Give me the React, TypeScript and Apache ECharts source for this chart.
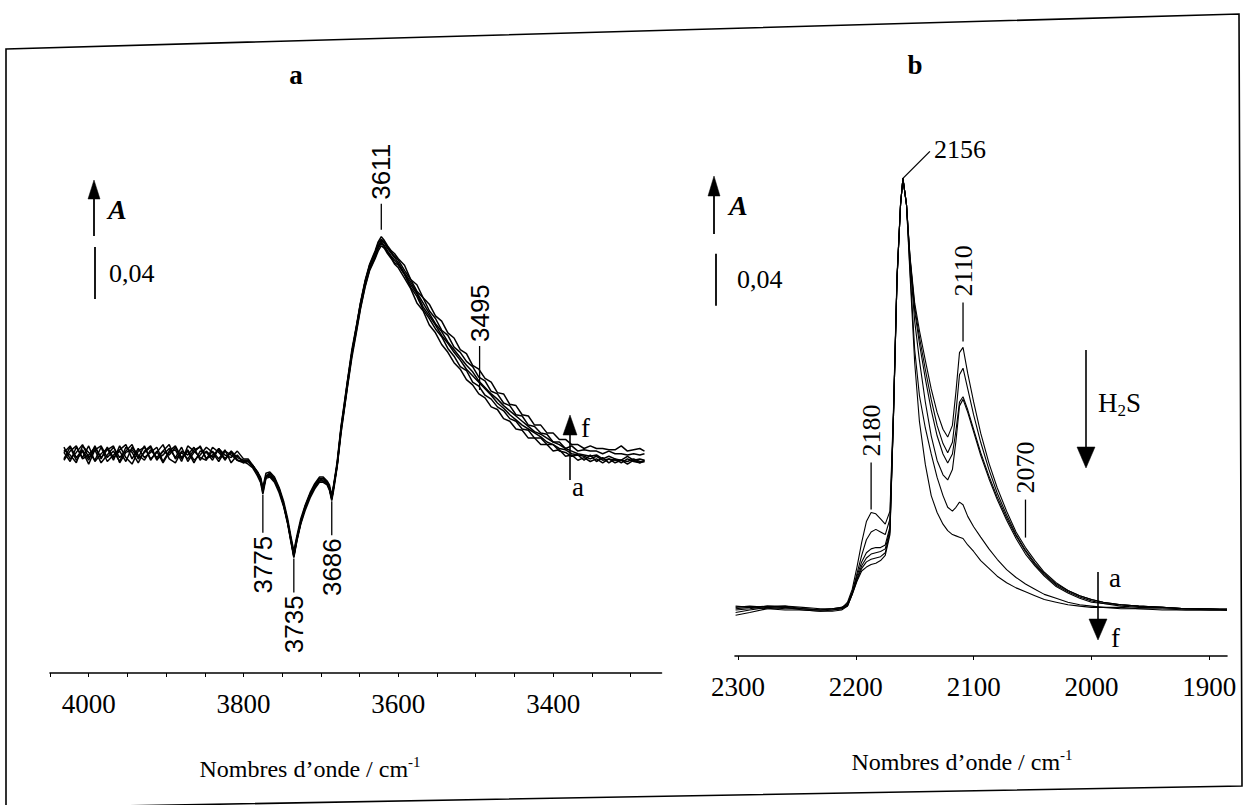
import React, { useEffect, useRef } from "react";
import * as echarts from "echarts";

// ---------------- Panel a : OH stretching region (absorbance in 10^-3 units) ----------------
const WN_A = [
  4032, 4024, 4016, 4008, 4000, 3992, 3984, 3976, 3968, 3960, 3952, 3944, 3936, 3928, 3920,
  3912, 3904, 3896, 3888, 3880, 3872, 3864, 3856, 3848, 3840, 3832, 3824, 3816, 3808, 3800,
  3794, 3788, 3782, 3778, 3775, 3771, 3766, 3760, 3754, 3748, 3743, 3739, 3735, 3731, 3726,
  3720, 3714, 3708, 3702, 3697, 3692, 3689, 3686, 3683, 3679, 3674, 3670, 3666, 3660, 3654,
  3649, 3643, 3637, 3630, 3626, 3622, 3618, 3614, 3609, 3605,
  3600, 3592, 3584, 3576, 3568, 3560, 3552, 3544, 3536, 3528, 3520, 3512, 3504, 3496, 3488,
  3480, 3472, 3464, 3456, 3448, 3440, 3432, 3424, 3416, 3408, 3400, 3392, 3384, 3376, 3368,
  3360, 3352, 3344, 3336, 3328, 3320, 3312, 3304, 3296, 3288, 3282,
];

const OH_a = [
  2, -5, 6, -2, 7, -5, 1, 5, -4, 7, -2, -7, 3, 6, -3, 2, 8, -3, -6, 3, 0, 6, -4, 3, -2, 5, -3, 2, -4, -5,
  -7, -10, -16, -21, -30, -18, -17, -21, -29, -40, -53, -66, -79, -66, -53, -42, -33, -26, -21, -21,
  -23, -27, -35, -25, -9, 17, 34, 51, 75, 95, 112, 129, 142, 151, 157, 161, 159, 155, 151, 147,
  144, 136, 128, 117, 111, 100, 94, 85, 79, 71, 66, 58, 54, 47, 44, 37, 35, 28, 26, 20,
  19, 13, 13, 8, 8, 3, 4, -1, 0, -4, -2, -5, -3, -6, -3, -6, -4, -7, -4, -6, -5,
];
const OH_b = [
  -3, 6, -4, 3, -7, 4, 7, -2, 3, -5, 6, 2, -6, 3, 7, -3, 0, 5, -2, 6, -5, 2, 7, -3, 3, -3, 4, -6, 0, -6,
  -4, -9, -13, -20, -27, -17, -14, -20, -26, -39, -52, -64, -78, -64, -51, -39, -31, -23, -20, -18,
  -22, -26, -33, -23, -8, 18, 35, 52, 77, 96, 113, 130, 143, 152, 159, 163, 160, 156, 152, 148,
  146, 139, 129, 122, 112, 105, 97, 91, 82, 76, 68, 65, 56, 53, 46, 43, 37, 34, 28, 26,
  20, 19, 13, 13, 8, 8, 3, 2, -1, 0, -4, 0, -5, -2, -6, -3, -6, -3, -5, -6, -4,
];
const OH_c = [
  4, 0, -6, 7, 2, -4, 6, -5, 0, 4, 8, -3, 5, -2, 2, 6, -5, 3, 7, -2, 4, -4, 0, 6, 2, -5, 3, 0, -4, -5,
  -5, -8, -14, -18, -29, -16, -16, -18, -27, -38, -51, -65, -77, -65, -52, -40, -30, -25, -18, -20,
  -21, -25, -34, -22, -7, 20, 36, 53, 78, 98, 114, 131, 144, 153, 160, 164, 161, 157, 153, 150,
  147, 139, 131, 124, 114, 107, 100, 92, 86, 79, 73, 66, 61, 56, 51, 46, 40, 36, 31, 27,
  23, 20, 17, 14, 10, 8, 5, 4, 1, 0, -1, -3, -1, -4, -3, -4, -4, -5, -3, -5, -5,
];
const OH_d = [
  -4, 3, 7, -3, 0, 6, -2, 4, 7, -6, 2, 4, -2, 7, -4, 3, -6, 2, 4, -5, 7, 3, -2, -4, 6, 2, -3, 3, -4, -6,
  -5, -9, -14, -20, -27, -17, -16, -20, -27, -39, -52, -65, -78, -65, -52, -40, -31, -25, -20, -20,
  -22, -26, -34, -23, -8, 20, 36, 55, 79, 99, 116, 133, 146, 155, 161, 165, 163, 159, 155, 152,
  148, 140, 133, 125, 117, 109, 101, 95, 87, 81, 75, 69, 64, 57, 52, 47, 43, 38, 34, 30,
  26, 22, 18, 16, 13, 10, 8, 5, 3, 1, 0, -1, 0, -3, -1, -3, -4, -1, -4, -3, -4,
];
const OH_e = [
  2, 7, -2, 4, -4, 7, -3, 6, -2, 3, -5, 6, 0, -4, 4, -2, 3, 8, -3, 2, -3, 4, 6, -3, 0, 4, -4, 3, -2, -4,
  -4, -8, -13, -18, -26, -16, -14, -18, -26, -38, -51, -64, -75, -64, -51, -39, -30, -23, -18, -18,
  -21, -25, -33, -22, -7, 21, 38, 55, 79, 99, 116, 133, 146, 156, 163, 166, 164, 160, 156, 153,
  150, 142, 135, 126, 121, 111, 105, 96, 92, 83, 79, 72, 68, 60, 57, 49, 47, 40, 38, 31,
  30, 23, 22, 17, 16, 10, 10, 5, 7, 3, 4, 3, 3, 1, 3, 1, 1, 0, 1, 0, 1,
];
const OH_f = [
  6, -3, 2, 8, -2, 4, -6, 0, 6, -2, 3, 8, -3, 2, 6, -4, 3, 0, 6, -3, 3, -6, 3, 2, -4, 5, 0, -2, 3, -3,
  -3, -8, -13, -17, -25, -14, -13, -17, -25, -36, -49, -62, -74, -62, -49, -38, -29, -22, -17, -17,
  -20, -23, -31, -21, -5, 22, 39, 56, 81, 100, 117, 134, 147, 157, 164, 168, 165, 161, 157, 155,
  151, 146, 135, 131, 121, 116, 107, 103, 94, 90, 81, 78, 69, 66, 59, 56, 48, 47, 39, 38,
  31, 30, 23, 23, 17, 17, 12, 12, 8, 8, 5, 7, 5, 5, 4, 4, 7, 3, 4, 5, 3,
];

// ---------------- Panel b : CO stretching region (absorbance in 10^-3 units) ----------------
const WN_B = [
  2302, 2290, 2275, 2260, 2245, 2230, 2220, 2212, 2207, 2203, 2199, 2195, 2191, 2187, 2183,
  2179, 2175, 2171, 2168, 2165, 2162, 2160, 2157, 2154, 2150, 2146, 2141, 2136, 2131, 2126,
  2122, 2118, 2115, 2112, 2109, 2105, 2100, 2094, 2087, 2080, 2072, 2064, 2056, 2048, 2040,
  2030, 2020, 2010, 2000, 1990, 1975, 1960, 1940, 1920, 1900, 1885,
];
const CO_a = [
  -4, -2, 1, 2, 0, -1, -1, 0, 3, 12, 22, 30, 33, 35, 36, 38, 42, 58, 150, 255,
  312, 332, 312, 272, 236, 215, 192, 170, 152, 139, 133, 142, 168, 198, 202, 182, 160, 136, 113, 94,
  76, 60, 48, 38, 29, 21, 15, 11, 8, 6, 4, 3, 2, 1, 1, 1,
];
const CO_b = [
  -2, 0, 2, 3, 1, 0, 0, 1, 3, 12, 23, 32, 37, 39, 40, 41, 44, 60, 150, 255,
  312, 332, 312, 271, 233, 210, 185, 162, 142, 128, 121, 129, 152, 181, 186, 170, 150, 129, 108, 90,
  73, 58, 46, 36, 28, 20, 15, 11, 8, 6, 4, 3, 2, 1, 1, 0,
];
const CO_c = [
  0, 1, 3, 3, 2, 1, 1, 1, 4, 13, 24, 34, 40, 43, 44, 45, 47, 62, 150, 255,
  312, 332, 312, 270, 230, 205, 178, 154, 134, 120, 113, 120, 138, 160, 164, 154, 139, 121, 103, 87,
  71, 57, 45, 35, 27, 19, 14, 10, 7, 5, 4, 3, 2, 1, 1, 0,
];
const CO_d = [
  1, 2, 3, 2, 1, 0, 1, 2, 4, 13, 26, 37, 44, 47, 48, 48, 50, 64, 150, 255,
  312, 332, 312, 268, 222, 192, 160, 134, 115, 104, 100, 108, 130, 157, 162, 152, 137, 119, 101, 85,
  69, 55, 43, 34, 26, 18, 13, 9, 6, 5, 3, 2, 2, 1, 0, 0,
];
const CO_e = [
  2, 3, 2, 1, 1, 0, 1, 2, 5, 14, 28, 42, 54, 60, 62, 60, 58, 70, 152, 256,
  312, 332, 312, 262, 200, 165, 140, 120, 102, 88, 79, 76, 79, 83, 81, 72, 64, 56, 47, 39,
  31, 25, 20, 16, 12, 9, 6, 4, 3, 2, 2, 1, 1, 0, 0, 0,
];
const CO_f = [
  3, 2, 1, 0, 0, -1, 0, 1, 6, 16, 33, 52, 68, 75, 74, 70, 66, 76, 155, 258,
  313, 332, 312, 258, 190, 145, 112, 88, 75, 66, 61, 58, 57, 56, 55, 50, 45, 38, 32, 26,
  21, 17, 14, 11, 8, 6, 4, 3, 2, 2, 1, 1, 0, 0, 0, 0,
];

// ---------------- Axis ticks / labels ----------------
const LABELS_A = [4000, 3800, 3600, 3400];
const TICKS_A = [4050, 4000, 3950, 3900, 3850, 3800, 3750, 3700, 3650, 3600, 3550, 3500, 3450, 3400, 3350, 3300];
const LABELS_B = [2300, 2200, 2100, 2000, 1900];

// ---------------- Band annotations ----------------
const BAND_TEXT_A = ["3775", "3735", "3686", "3611", "3495"];
const BAND_WN_A = [3775, 3735, 3686, 3622, 3495];
const BAND_ABS_A = [-29, -78, -34, 164, 50];
const BAND_TEXT_B = ["2156", "2110", "2180", "2070"];
const BAND_WN_B = [2160, 2109, 2187, 2056];
const BAND_ABS_B = [332, 202, 75, 48];
const SCALE_BAR = 40; // 0,04 absorbance

const SERIF = "Liberation Serif";
const SANS = "Liberation Sans";

const zip = (xs: number[], ys: number[]) => xs.map((x, i) => [x, ys[i]]);

function axisX(grid: number, min: number, max: number, labels: number[], ticks: number[]) {
  return {
    type: "value",
    gridIndex: grid,
    min,
    max,
    inverse: true,
    axisLine: { show: true, onZero: false, lineStyle: { color: "#000", width: 1.6 } },
    axisTick: { show: true, customValues: ticks, length: 4, lineStyle: { color: "#000", width: 1 } },
    axisLabel: {
      show: true,
      customValues: labels,
      formatter: (v: number) => String(v),
      margin: 17,
      color: "#000",
      fontFamily: SERIF,
      fontSize: 27,
    },
    splitLine: { show: false },
  };
}

function arrow(x: number, yTip: number, yTail: number, head: number, half: number, width: number) {
  const dir = yTail > yTip ? 1 : -1;
  return [
    {
      type: "line",
      silent: true,
      shape: { x1: x, y1: yTip + dir * (head - 2), x2: x, y2: yTail },
      style: { stroke: "#000", lineWidth: width },
    },
    {
      type: "polygon",
      silent: true,
      shape: { points: [[x, yTip], [x - half, yTip + dir * head], [x + half, yTip + dir * head]] },
      style: { fill: "#000", stroke: "#000", lineWidth: 0.5 },
    },
  ];
}

function txt(x: number, y: number, text: string, opts: any = {}) {
  const { rotation, ...style } = opts;
  return {
    type: "text",
    x,
    y,
    silent: true,
    rotation: rotation || 0,
    style: {
      text,
      fill: "#000",
      fontFamily: SERIF,
      fontSize: 27,
      align: "left",
      verticalAlign: "middle",
      ...style,
    },
  };
}

function vline(x: number, y1: number, y2: number, w = 1.3) {
  return { type: "line", silent: true, shape: { x1: x, y1, x2: x, y2 }, style: { stroke: "#000", lineWidth: w } };
}

export default function App() {
  const ref = useRef<HTMLDivElement>(null);

  useEffect(() => {
    if (!ref.current) return;
    const chart = echarts.init(ref.current, null, { renderer: "svg" });

    const oh = [OH_a, OH_b, OH_c, OH_d, OH_e, OH_f];
    const co = [CO_a, CO_b, CO_c, CO_d, CO_e, CO_f];

    chart.setOption({
      animation: false,
      backgroundColor: "#fff",
      textStyle: { fontFamily: SERIF, color: "#000" },
      grid: [
        { left: 50, top: 100, width: 611.5, height: 573 },
        { left: 735, top: 100, width: 492, height: 556 },
      ],
      xAxis: [
        axisX(0, 3260, 4050, LABELS_A, TICKS_A),
        axisX(1, 1885, 2302.5, LABELS_B, LABELS_B),
      ],
      yAxis: [
        { type: "value", gridIndex: 0, min: -167.7, max: 273.1, show: false },
        { type: "value", gridIndex: 1, min: -35.4, max: 392.3, show: false },
      ],
      series: [
        ...oh.map((ys, i) => ({
          type: "line",
          name: "OH " + "abcdef"[i],
          xAxisIndex: 0,
          yAxisIndex: 0,
          data: zip(WN_A, ys),
          showSymbol: false,
          symbol: "none",
          silent: true,
          lineStyle: { color: "#000", width: 1.5 },
        })),
        ...co.map((ys, i) => ({
          type: "line",
          name: "CO " + "abcdef"[i],
          xAxisIndex: 1,
          yAxisIndex: 1,
          data: zip(WN_B, ys),
          showSymbol: false,
          symbol: "none",
          silent: true,
          lineStyle: { color: "#000", width: 1.1 },
        })),
      ],
    });

    const p = (g: number, x: number, y: number) => chart.convertToPixel({ gridIndex: g }, [x, y]) as number[];
    const g: any[] = [];

    // frame of the figure
    g.push({
      type: "polygon",
      silent: true,
      shape: { points: [[6, 49], [1239, 14], [1242, 786], [6, 808]] },
      style: { fill: "none", stroke: "#000", lineWidth: 1.6 },
    });

    // panel titles
    g.push(txt(296, 75, "a", { fontWeight: "bold", fontSize: 27, align: "center" }));
    g.push(txt(915, 65, "b", { fontWeight: "bold", fontSize: 27, align: "center" }));

    // axis names
    const nameStyle = {
      fontSize: 24,
      align: "center",
      rich: { sup: { fontSize: 15, fontFamily: SERIF, padding: [0, 0, 14, 0] } },
    };
    g.push(txt(310, 769, "Nombres d’onde / cm{sup|-1}", nameStyle));
    g.push(txt(962, 762, "Nombres d’onde / cm{sup|-1}", nameStyle));

    // ---- panel a annotations ----
    g.push(...arrow(94, 180, 236, 19, 6, 1.8));
    g.push(txt(108, 209, "A", { fontStyle: "italic", fontWeight: "bold", fontSize: 28 }));
    {
      const [, yb0] = p(0, 3600, 120);
      const [, yb1] = p(0, 3600, 120 + SCALE_BAR);
      g.push(vline(95, yb0, yb1, 1.8));
      g.push(txt(109, (yb0 + yb1) / 2, "0,04", { fontSize: 26 }));
    }
    BAND_TEXT_A.forEach((t, i) => {
      const [x, y] = p(0, BAND_WN_A[i], BAND_ABS_A[i]);
      const below = BAND_ABS_A[i] < 0;
      if (below) {
        const len = [40, 36, 36][i];
        g.push(vline(x, y + 2, y + len));
        g.push(txt(x, y + len + 3, t, { fontFamily: SANS, fontSize: 26, align: "right", rotation: Math.PI / 2 }));
      } else {
        const s = i === 3 ? 12 : 0;
        const len = i === 3 ? 38 : 44;
        g.push(vline(x, y - s, y - len));
        g.push(txt(x, y - len - 4, t, { fontFamily: SANS, fontSize: 26, align: "left", rotation: Math.PI / 2 }));
      }
    });
    g.push(...arrow(570, 415, 480, 20, 7, 1.6));
    g.push(txt(581, 428, "f", { fontSize: 27 }));
    g.push(txt(572, 487, "a", { fontSize: 27 }));

    // ---- panel b annotations ----
    g.push(...arrow(714, 176, 234, 20, 6, 1.8));
    g.push(txt(729, 205, "A", { fontStyle: "italic", fontWeight: "bold", fontSize: 28 }));
    {
      const [, yb0] = p(1, 2300, 234);
      const [, yb1] = p(1, 2300, 234 + SCALE_BAR);
      g.push(vline(716, yb0, yb1, 1.8));
      g.push(txt(737, (yb0 + yb1) / 2, "0,04", { fontSize: 26 }));
    }
    BAND_TEXT_B.forEach((t, i) => {
      const [x, y] = p(1, BAND_WN_B[i], BAND_ABS_B[i]);
      if (i === 0) {
        g.push({
          type: "line",
          silent: true,
          shape: { x1: x, y1: y, x2: x + 27, y2: y - 27 },
          style: { stroke: "#000", lineWidth: 1.3 },
        });
        g.push(txt(x + 31, y - 29, t, { fontSize: 26 }));
      } else {
        const s = [0, 6, 3, 10][i];
        const len = [0, 45, 50, 48][i];
        g.push(vline(x, y - s, y - len));
        g.push(txt(x, y - len - 6, t, { fontSize: 26, align: "left", rotation: Math.PI / 2 }));
      }
    });
    g.push(...arrow(1086, 468, 350, 21, 9, 1.6));
    g.push(
      txt(1098, 403, "H{sub|2}S", {
        fontSize: 27,
        rich: { sub: { fontSize: 17, fontFamily: SERIF, padding: [14, 0, 0, 0] } },
      })
    );
    g.push(...arrow(1098, 640, 572, 21, 9, 1.6));
    g.push(txt(1109, 578, "a", { fontSize: 27 }));
    g.push(txt(1111, 638, "f", { fontSize: 27 }));

    chart.setOption({ graphic: g });

    return () => chart.dispose();
  }, []);

  return (
    <div
      ref={ref}
      style={{ position: "absolute", left: 0, top: 0, width: 1245, height: 805, background: "#fff" }}
    />
  );
}
